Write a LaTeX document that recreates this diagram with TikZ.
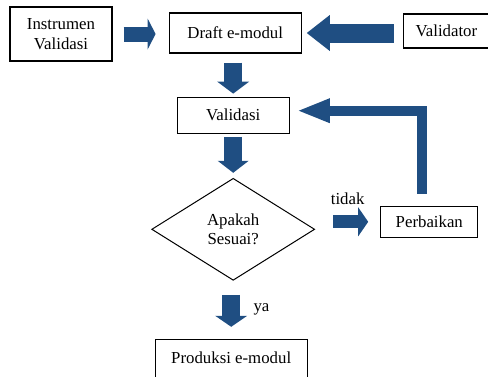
\documentclass[tikz,border=0pt]{standalone}
\usepackage{fontspec}
\setmainfont{Liberation Serif}
\usetikzlibrary{positioning, arrows.meta, shapes.geometric}
\definecolor{arrowblue}{HTML}{1F4E82}

\begin{document}
\begin{tikzpicture}[x=1pt, y=-1pt, font=\fontsize{16.8}{19.5}\selectfont,
	box/.style={draw, rectangle, line width=1.2pt, align=center, inner sep=0pt},
	fat/.style n args={3}{draw=arrowblue, line width=#1, -{Triangle[length=#2, width=#3, line width=0pt]}}]
	\clip (0,0) rectangle (488,376);
	
	% Define nodes
	\node [box, minimum width=102pt, minimum height=54pt] (instr) at (61,34) {Instrumen \\ Validasi};
	\node [box, right=56pt of instr, yshift=1pt, minimum width=132pt, minimum height=40pt] (draft) {Draft e-modul};
	\node [box, right=101pt of draft, yshift=2pt, minimum width=86pt, minimum height=34pt] (validator) {Validator};
	\node [box, below=43pt of draft, xshift=-2pt, minimum width=112pt, minimum height=36pt] (validasi) {Validasi};
	\node [draw, diamond, line width=1pt, below=44pt of validasi, minimum width=163pt, minimum height=102pt, inner sep=0pt, align=center] (sesuai) {Apakah \\ Sesuai?};
	\node [box, right=65pt of sesuai, yshift=7.5pt, minimum width=97pt, minimum height=31pt] (perb) {Perbaikan};
	\node [box, below=58pt of sesuai, xshift=-2pt, minimum width=152pt, inner ysep=12pt, text depth=40pt] (prod) {Produksi e-modul};
	
	% Block arrows between the boxes
	\draw [fat={15pt}{8pt}{31pt}, shorten <=11pt, shorten >=13pt] (instr.east) -- (instr.east -| draft.west);
	\draw [fat={19pt}{23pt}{36pt}, shorten <=9pt, shorten >=5pt] (validator.west |- draft.east) -- (draft.east);
	\draw [fat={18pt}{12pt}{32pt}, shorten <=9pt, shorten >=3pt] (validasi.north |- draft.south) -- (validasi.north);
	\draw [fat={18pt}{12pt}{31pt}, shorten <=3pt, shorten >=5pt] (validasi.south) -- (sesuai.north);
	\draw [fat={13pt}{10pt}{29pt}, shorten <=18pt, shorten >=12pt] (perb.west -| sesuai.east) -- (perb.west) node[midway, above=7pt] {tidak};
	\draw [fat={18pt}{11pt}{32pt}, shorten <=14pt, shorten >=12pt] (prod.north |- sesuai.south) -- (prod.north) node[midway, right=10pt] {ya};
	\draw [fat={10pt}{31pt}{25pt}, shorten <=12pt, shorten >=9pt] ([xshift=-7pt]perb.north) |- ([yshift=4.5pt]validasi.east);
\end{tikzpicture}
\end{document}
